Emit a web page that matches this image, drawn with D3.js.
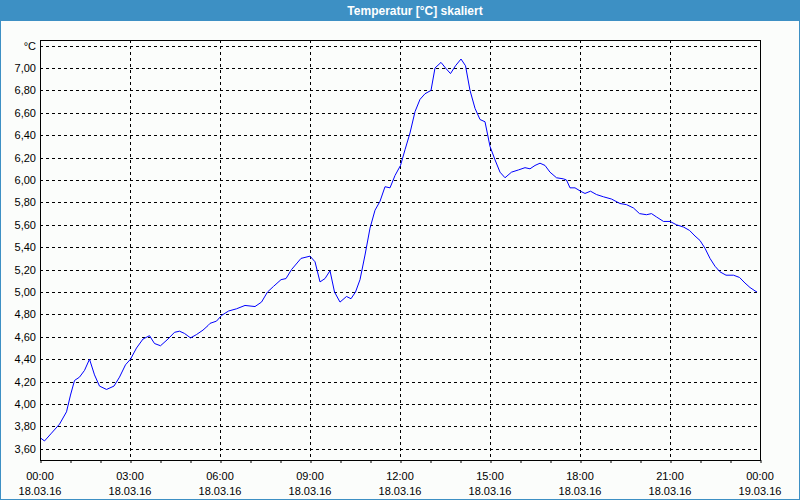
<!DOCTYPE html>
<html><head><meta charset="utf-8">
<script src="https://cdn.jsdelivr.net/npm/d3@7"></script>
<style>html,body{margin:0;padding:0;background:#fff;} svg{display:block;}</style>
</head><body>
<svg id="c" width="800" height="500"></svg>
<script>
const titleText = "Temperatur [°C] skaliert";
const unitLabel = "°C";
const timeMinutes = [0,9,23,39,53,61,69,79,89,99,109,119,133,148,159,171,181,193,206,219,229,241,256,269,279,289,301,313,326,336,
  340,353,363,377,393,410,430,443,455,467,482,492,503,522,540,550,560,570,580,589,600,613,622,631,640,650,
  660,670,680,690,700,710,721,730,740,750,760,770,782,790,802,811,821,831,842,851,860,870,880,890,900,910,920,930,
  943,957,970,980,990,1000,1010,1020,1033,1047,1053,1060,1070,1081,1090,1101,1113,1127,1143,1160,1173,1187,1199,
  1213,1223,1233,1247,1260,1273,1287,1299,1310,1320,1330,1340,1350,1360,1372,1387,1399,1410,1420,1430,1434];
const tempValues = [3.70,3.67,3.74,3.82,3.93,4.08,4.21,4.24,4.30,4.40,4.26,4.16,4.13,4.16,4.24,4.35,4.40,4.50,4.58,4.61,4.54,4.52,4.58,4.64,4.65,4.63,4.59,4.62,4.66,4.70,
  4.72,4.74,4.79,4.83,4.85,4.88,4.87,4.91,5.00,5.05,5.11,5.12,5.20,5.30,5.32,5.27,5.09,5.12,5.19,5.00,4.91,4.96,4.94,5.00,5.11,5.33,
  5.57,5.73,5.81,5.94,5.93,6.04,6.13,6.27,6.42,6.61,6.72,6.77,6.80,7.00,7.05,7.00,6.95,7.02,7.08,7.02,6.80,6.64,6.54,6.52,6.30,6.18,6.07,6.02,
  6.07,6.09,6.11,6.10,6.13,6.15,6.13,6.07,6.02,6.01,6.00,5.93,5.93,5.90,5.88,5.90,5.87,5.85,5.83,5.79,5.78,5.75,5.70,
  5.69,5.70,5.67,5.63,5.63,5.60,5.58,5.55,5.50,5.46,5.39,5.30,5.23,5.18,5.15,5.15,5.13,5.08,5.04,5.01,5.00];
const xTickMinutes = [0,180,360,540,720,900,1080,1260,1440];
const xMinorTickMinutes = d3.range(0,1441,60);
const xTimeLabels = ["00:00","03:00","06:00","09:00","12:00","15:00","18:00","21:00","00:00"];
const xDateLabels = ["18.03.16","18.03.16","18.03.16","18.03.16","18.03.16","18.03.16","18.03.16","18.03.16","19.03.16"];
const yTickValues = [3.6,3.8,4.0,4.2,4.4,4.6,4.8,5.0,5.2,5.4,5.6,5.8,6.0,6.2,6.4,6.6,6.8,7.0,7.2];

const W = 800, H = 500;
const L = 40, R = 760, T = 40, B = 460;
const blue = "#3d90c4";
const font = "'Liberation Sans', Arial, sans-serif";

const svg = d3.select("#c");
svg.append("rect").attr("x",0).attr("y",0).attr("width",W).attr("height",H).attr("fill","#fbfdfb");
svg.append("rect").attr("x",0.5).attr("y",0.5).attr("width",W-1).attr("height",H-1)
  .attr("fill","none").attr("stroke",blue).attr("stroke-width",1);
svg.append("rect").attr("x",0).attr("y",0).attr("width",W).attr("height",21).attr("fill",blue);
svg.append("text").attr("x",415).attr("y",15).attr("text-anchor","middle")
  .attr("fill","#fff").attr("font-family",font).attr("font-weight","bold").attr("font-size","12px")
  .text(titleText);

const x = d3.scaleLinear().domain([0,1440]).range([L,R]);
const y = d3.scaleLinear().domain([3.5,7.25]).range([B,T]);
const px = v => Math.round(v) + 0.5;

const grid = svg.append("g").attr("stroke","#000").attr("stroke-width",1).attr("stroke-dasharray","3,3");
grid.selectAll("line.h").data(yTickValues).enter().append("line")
  .attr("x1",L).attr("x2",R).attr("y1",d=>px(y(d))).attr("y2",d=>px(y(d)));
grid.selectAll("line.v").data(xTickMinutes.slice(1,-1)).enter().append("line")
  .attr("y1",T).attr("y2",B).attr("x1",d=>px(x(d))).attr("x2",d=>px(x(d)));

const xAxis = d3.axisBottom(x).tickValues(xMinorTickMinutes).tickSize(3).tickFormat("");
const gx = svg.append("g").attr("transform",`translate(0.5,${B})`).call(xAxis);
gx.select(".domain").remove();
gx.selectAll(".tick line").attr("stroke","#000");

const xl = svg.append("g").attr("font-family",font).attr("font-size","11px").attr("fill","#000").attr("text-anchor","middle");
xl.selectAll("text.t").data(xTickMinutes).enter().append("text")
  .attr("x",d=>x(d)).attr("y",480).text((d,i)=>xTimeLabels[i]);
xl.selectAll("text.d").data(xTickMinutes).enter().append("text")
  .attr("x",d=>x(d)).attr("y",495).text((d,i)=>xDateLabels[i]);

const yAxis = d3.axisLeft(y).tickValues(yTickValues).tickSize(0).tickPadding(4)
  .tickFormat(d => Math.abs(d-7.2)<1e-9 ? unitLabel : d3.format(".2f")(d).replace(".",","));
const gy = svg.append("g").attr("transform",`translate(${L},0)`).call(yAxis);
gy.select(".domain").remove();
gy.selectAll("text").attr("font-family",font).attr("font-size","11px").attr("fill","#000");

const line = d3.line().x((d,i)=>x(timeMinutes[i])).y(d=>y(d));
svg.append("path").datum(tempValues).attr("d",line)
  .attr("fill","none").attr("stroke","#0000ff").attr("stroke-width",1);

svg.append("rect").attr("x",L+0.5).attr("y",T+0.5).attr("width",R-L).attr("height",B-T)
  .attr("fill","none").attr("stroke","#000").attr("stroke-width",1);
</script>
</body></html>
